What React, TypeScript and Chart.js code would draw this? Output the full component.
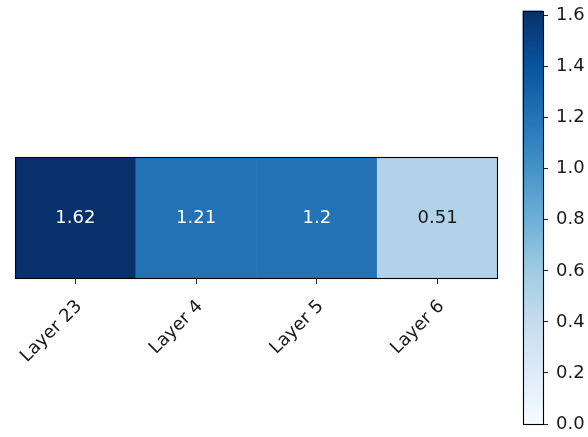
import React, { useEffect, useRef } from "react";
import { Chart, registerables } from "chart.js";

Chart.register(...registerables);

// Heatmap data: one row of layer scores
const layers = ["Layer 23", "Layer 4", "Layer 5", "Layer 6"];
const values = [1.62, 1.21, 1.2, 0.51];

// Colour scale range and colorbar tick step
const vmin = 0;
const vmax = 1.62;
const colorbarStep = 0.2;

// "Blues" sequential palette stops (light -> dark)
const bluesStops = [
  "#f7fbff", "#deebf7", "#c6dbef", "#9ecae1", "#6baed6",
  "#4292c6", "#2171b5", "#08519c", "#08306b",
];

const FONT = "'DejaVu Sans', sans-serif";
const FONT_SIZE = 18;

function hexToRgb(h: string): [number, number, number] {
  const n = parseInt(h.slice(1), 16);
  return [(n >> 16) & 255, (n >> 8) & 255, n & 255];
}

function blues(t: number): string {
  const c = Math.min(1, Math.max(0, t));
  const pos = c * (bluesStops.length - 1);
  const i = Math.min(bluesStops.length - 2, Math.floor(pos));
  const f = pos - i;
  const a = hexToRgb(bluesStops[i]);
  const b = hexToRgb(bluesStops[i + 1]);
  const m = a.map((v, k) => Math.round(v + (b[k] - v) * f));
  return `rgb(${m[0]}, ${m[1]}, ${m[2]})`;
}

const norm = (v: number) => (v - vmin) / (vmax - vmin);

// Thin black frame around the plotting area
const framePlugin = {
  id: "frame",
  afterDatasetsDraw(chart: any) {
    const { ctx, chartArea } = chart;
    ctx.save();
    ctx.strokeStyle = "#000";
    ctx.lineWidth = 1.1;
    ctx.strokeRect(
      Math.round(chartArea.left) + 0.5,
      Math.round(chartArea.top) + 0.5,
      Math.round(chartArea.right - chartArea.left) - 1,
      Math.round(chartArea.bottom - chartArea.top) - 1
    );
    ctx.restore();
  },
};

// Value text in the centre of every cell
const cellLabelPlugin = {
  id: "cellLabels",
  afterDatasetsDraw(chart: any) {
    const { ctx } = chart;
    const meta = chart.getDatasetMeta(0);
    ctx.save();
    ctx.font = `${FONT_SIZE}px ${FONT}`;
    ctx.textAlign = "center";
    ctx.textBaseline = "middle";
    meta.data.forEach((el: any, i: number) => {
      const v = values[i];
      const yc = (el.y + el.base) / 2;
      ctx.fillStyle = norm(v) > 0.5 ? "#ffffff" : "#1a1a1a";
      ctx.fillText(String(v), el.x, yc);
    });
    ctx.restore();
  },
};

function Heatmap() {
  const ref = useRef<HTMLCanvasElement>(null);
  useEffect(() => {
    if (!ref.current) return;
    const chart = new Chart(ref.current, {
      type: "bar",
      data: {
        labels: layers,
        datasets: [
          {
            data: values.map(() => [-0.5, 0.5]) as any,
            backgroundColor: values.map((v) => blues(norm(v))),
            borderWidth: 0,
            barPercentage: 1,
            categoryPercentage: 1,
          },
        ],
      },
      options: {
        responsive: false,
        animation: false,
        events: [],
        layout: { padding: { left: 15, top: 157, right: 90, bottom: 0 } },
        plugins: { legend: { display: false }, tooltip: { enabled: false } },
        scales: {
          x: {
            type: "category",
            border: { display: false },
            grid: {
              offset: false,
              drawOnChartArea: false,
              drawTicks: true,
              tickLength: 5,
              color: "#222",
              lineWidth: 1,
            },
            ticks: {
              autoSkip: false,
              minRotation: 45,
              maxRotation: 45,
              padding: 12,
              labelOffset: 4,
              color: "#1a1a1a",
              font: { family: FONT, size: FONT_SIZE },
            },
            afterFit: (s: any) => {
              s.height = 158;
            },
          },
          y: { display: false, min: -0.5, max: 0.5 },
        },
      },
      plugins: [cellLabelPlugin, framePlugin],
    });
    return () => chart.destroy();
  }, []);
  return (
    <canvas
      ref={ref}
      width={588}
      height={437}
      style={{ position: "absolute", left: 0, top: 0 }}
    />
  );
}

function Colorbar() {
  const ref = useRef<HTMLCanvasElement>(null);
  useEffect(() => {
    if (!ref.current) return;
    const chart = new Chart(ref.current, {
      type: "bar",
      data: {
        labels: [""],
        datasets: [
          {
            data: [[vmin, vmax]] as any,
            backgroundColor: (c: any) => {
              const { chartArea, ctx } = c.chart;
              if (!chartArea) return bluesStops[4];
              const g = ctx.createLinearGradient(0, chartArea.bottom, 0, chartArea.top);
              bluesStops.forEach((s, i) => g.addColorStop(i / (bluesStops.length - 1), s));
              return g;
            },
            borderWidth: 0,
            barPercentage: 1,
            categoryPercentage: 1,
          },
        ],
      },
      options: {
        responsive: false,
        animation: false,
        events: [],
        layout: { padding: { left: 12.5, top: 10.5, right: 0, bottom: 13 } },
        plugins: { legend: { display: false }, tooltip: { enabled: false } },
        scales: {
          x: { display: false },
          y: {
            position: "right",
            min: vmin,
            max: vmax,
            border: { display: false },
            grid: {
              drawOnChartArea: false,
              drawTicks: true,
              tickLength: 5,
              color: "#222",
            },
            ticks: {
              stepSize: colorbarStep,
              includeBounds: false,
              padding: 8,
              color: "#1a1a1a",
              font: { family: FONT, size: FONT_SIZE },
              callback: (v: any) => Number(v).toFixed(1),
            },
            afterFit: (s: any) => {
              s.width = 45;
              s.paddingTop = 0;
              s.paddingBottom = 0;
            },
          },
        },
      },
      plugins: [framePlugin],
    });
    return () => chart.destroy();
  }, []);
  return (
    <canvas
      ref={ref}
      width={78}
      height={437}
      style={{ position: "absolute", left: 510, top: 0 }}
    />
  );
}

export default function App() {
  return (
    <div
      style={{
        position: "fixed",
        left: 0,
        top: 0,
        width: 588,
        height: 437,
        background: "#fff",
        overflow: "hidden",
      }}
    >
      <Heatmap />
      <Colorbar />
    </div>
  );
}
